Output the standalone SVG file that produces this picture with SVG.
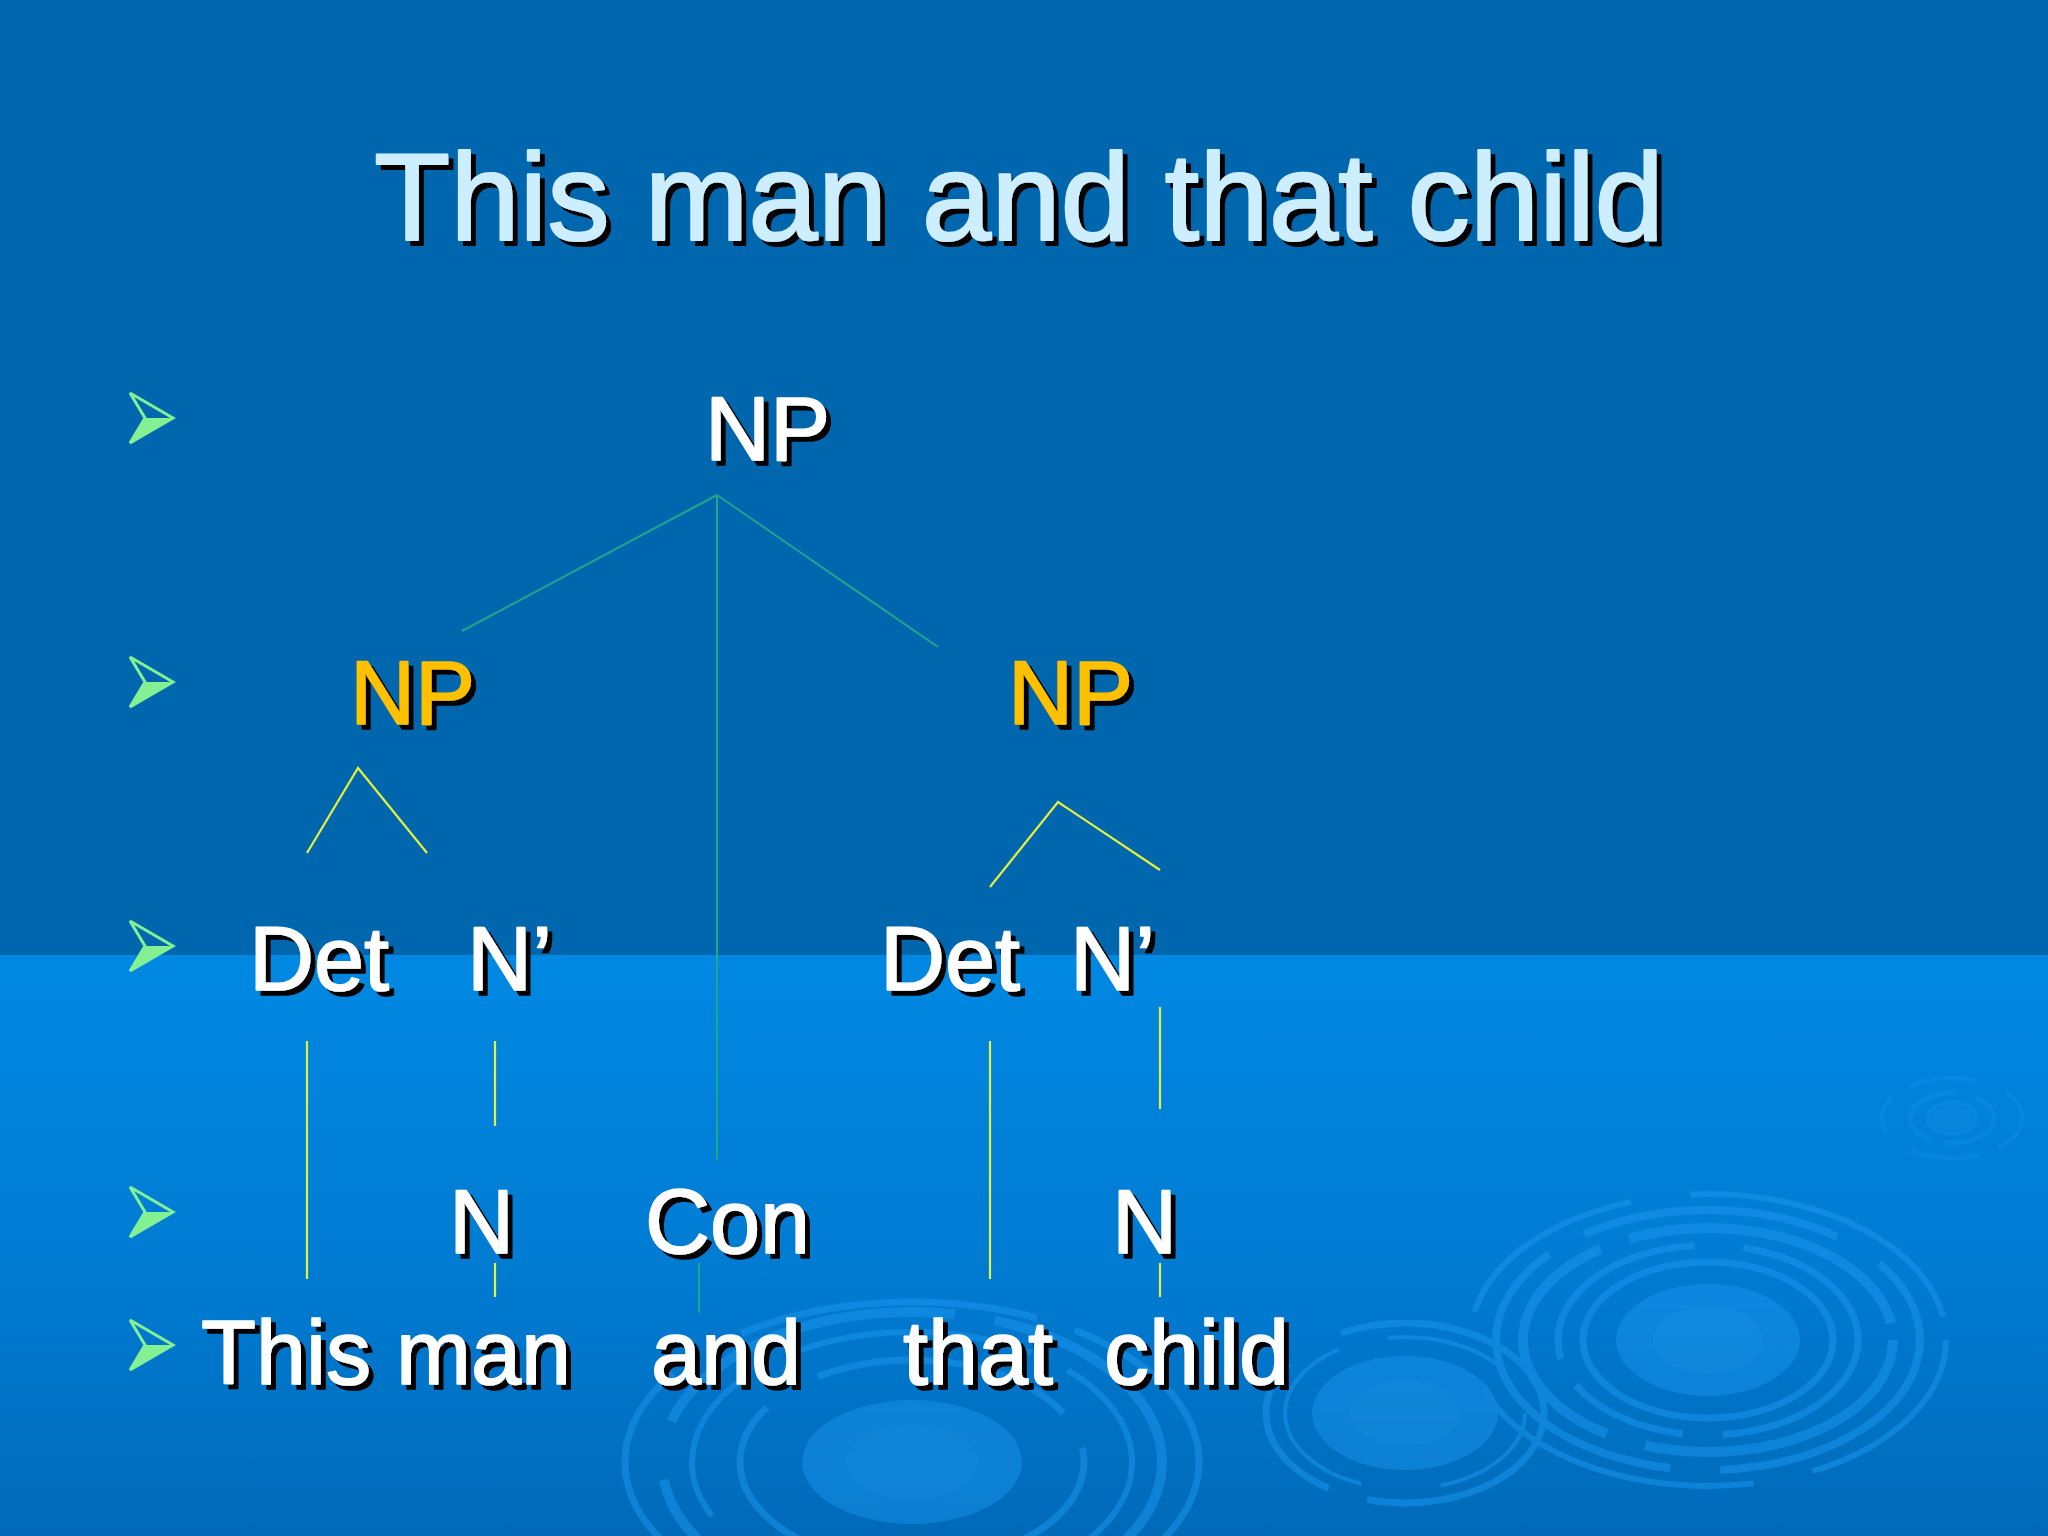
<svg xmlns="http://www.w3.org/2000/svg" width="2048" height="1536" viewBox="0 0 2048 1536">
<defs>
<linearGradient id="lower" x1="0" y1="0" x2="0" y2="1">
<stop offset="0" stop-color="#0088E2"/>
<stop offset="0.55" stop-color="#007BD2"/>
<stop offset="1" stop-color="#006AB8"/>
</linearGradient>
<filter id="shadow" x="-10%" y="-10%" width="130%" height="130%">
<feDropShadow dx="5" dy="5" stdDeviation="0" flood-color="#000000" flood-opacity="1"/>
</filter>
<g id="bullet">
<path d="M-43,-25 L0,0 L-43,25 L-28,0 Z" fill="none" stroke="#84F094" stroke-width="3" stroke-linejoin="miter"/>
<path d="M-28,0 L0,0 L-43,25 Z" fill="#84F094"/>
</g>
</defs>
<style>
.t{font-family:"Liberation Sans",Arial,sans-serif;font-size:90px;filter:url(#shadow);stroke-width:1.6px;stroke-linejoin:round}
.w{fill:#FFFFFF;stroke:#FFFFFF}
.y{fill:#FFC000;stroke:#FFC000}
.title{font-family:"Liberation Sans",Arial,sans-serif;font-size:124px;fill:#CCEEFF;stroke:#CCEEFF;stroke-width:2px;stroke-linejoin:round;filter:url(#shadow)}
.teal{stroke:#22A58E;stroke-width:2;fill:none}
.yel{stroke:#E4F03C;stroke-width:2.2;fill:none}
.rip{fill:none;stroke:#1C98F0}
</style>

<!-- background -->
<rect x="0" y="0" width="2048" height="956" fill="#0067AF"/>
<rect x="0" y="955" width="2048" height="581" fill="url(#lower)"/>

<!-- ripples -->
<g id="ripples" opacity="0.5">
<g id="ripple-small">
<ellipse cx="1952" cy="1118" rx="20" ry="12" fill="#1A8EE0" opacity="0.6"/>
<ellipse class="rip" cx="1952" cy="1118" rx="24" ry="15" stroke-width="5" opacity="0.5"/>
<ellipse class="rip" cx="1952" cy="1118" rx="42" ry="25" stroke-width="5" stroke-dasharray="60 14 90 20" opacity="0.5"/>
<ellipse class="rip" cx="1952" cy="1118" rx="70" ry="40" stroke-width="4" stroke-dasharray="40 20 70 30" opacity="0.5"/>
</g>
<g id="ripple-medium">
<ellipse cx="1405" cy="1413" rx="93" ry="57" fill="#1C98F0" opacity="0.9"/>
<ellipse cx="1405" cy="1413" rx="55" ry="33" fill="#2AA0F2" opacity="0.5"/>
<ellipse class="rip" cx="1405" cy="1413" rx="139" ry="90" stroke-width="7" stroke-dasharray="220 40 160 60 250 30"/>
<ellipse class="rip" cx="1405" cy="1413" rx="120" ry="76" stroke-width="4" stroke-dasharray="120 80 200 50"/>
</g>
<g id="ripple-large">
<ellipse cx="1708" cy="1340" rx="92" ry="56" fill="#1C98F0" opacity="0.9"/>
<ellipse cx="1708" cy="1340" rx="55" ry="33" fill="#2AA0F2" opacity="0.5"/>
<ellipse class="rip" cx="1708" cy="1340" rx="125" ry="78" stroke-width="7"/>
<ellipse class="rip" cx="1708" cy="1340" rx="150" ry="95" stroke-width="7" stroke-dasharray="180 40 120 30 200 50"/>
<ellipse class="rip" cx="1708" cy="1340" rx="185" ry="112" stroke-width="10" stroke-dasharray="300 40 260 30"/>
<ellipse class="rip" cx="1708" cy="1340" rx="212" ry="130" stroke-width="8" stroke-dasharray="260 50 340 40"/>
<ellipse class="rip" cx="1708" cy="1340" rx="238" ry="146" stroke-width="6" stroke-dasharray="200 60 300 80"/>
</g>
<g id="ripple-bottom">
<ellipse cx="912" cy="1462" rx="110" ry="62" fill="#1C98F0" opacity="0.9"/>
<ellipse cx="912" cy="1462" rx="66" ry="38" fill="#2AA0F2" opacity="0.5"/>
<ellipse class="rip" cx="912" cy="1462" rx="172" ry="102" stroke-width="7" stroke-dasharray="260 40 200 60"/>
<ellipse class="rip" cx="912" cy="1462" rx="220" ry="130" stroke-width="6" stroke-dasharray="160 60 240 40"/>
<ellipse class="rip" cx="912" cy="1462" rx="250" ry="150" stroke-width="10" stroke-dasharray="320 40 260 60"/>
<ellipse class="rip" cx="912" cy="1462" rx="287" ry="160" stroke-width="7" stroke-dasharray="200 80 300 40"/>
</g>
</g>

<!-- title -->
<g id="title">
<text class="title" x="374" y="240" textLength="1290" lengthAdjust="spacingAndGlyphs">This man and that child</text>
</g>

<!-- bullets -->
<g id="bullets">
<use href="#bullet" x="173" y="418"/>
<use href="#bullet" x="173" y="682"/>
<use href="#bullet" x="173" y="946"/>
<use href="#bullet" x="173" y="1212"/>
<use href="#bullet" x="173" y="1345"/>
</g>

<!-- connectors -->
<g id="connectors">
<line class="teal" x1="717" y1="495" x2="462" y2="631"/>
<line class="teal" x1="717" y1="495" x2="938" y2="647"/>
<line class="teal" x1="717" y1="495" x2="717" y2="1160"/>
<line class="teal" x1="699" y1="1263" x2="699" y2="1313"/>
<polyline class="yel" points="307,853 358,768 427,853"/>
<polyline class="yel" points="990,887 1058,802 1160,870"/>
<line class="yel" x1="307" y1="1041" x2="307" y2="1279"/>
<line class="yel" x1="495" y1="1041" x2="495" y2="1126"/>
<line class="yel" x1="495" y1="1263" x2="495" y2="1297"/>
<line class="yel" x1="990" y1="1041" x2="990" y2="1279"/>
<line class="yel" x1="1160" y1="1007" x2="1160" y2="1109"/>
<line class="yel" x1="1160" y1="1263" x2="1160" y2="1297"/>
</g>

<!-- nodes -->
<g id="np-root"><text class="t w" x="705" y="460">NP</text></g>
<g id="np-left"><text class="t y" x="350" y="724">NP</text></g>
<g id="np-right"><text class="t y" x="1008" y="724">NP</text></g>
<g id="det-left"><text class="t w" x="249" y="990">Det</text></g>
<g id="nbar-left"><text class="t w" x="467" y="990">N’</text></g>
<g id="det-right"><text class="t w" x="880" y="990">Det</text></g>
<g id="nbar-right"><text class="t w" x="1070" y="990">N’</text></g>
<g id="n-left"><text class="t w" x="449" y="1253">N</text></g>
<g id="con"><text class="t w" x="645" y="1253">Con</text></g>
<g id="n-right"><text class="t w" x="1112" y="1253">N</text></g>
<g id="word-this-man"><text class="t w" x="201" y="1384">This man</text></g>
<g id="word-and"><text class="t w" x="651" y="1384">and</text></g>
<g id="word-that"><text class="t w" x="903" y="1384">that</text></g>
<g id="word-child"><text class="t w" x="1104" y="1384">child</text></g>
</svg>
